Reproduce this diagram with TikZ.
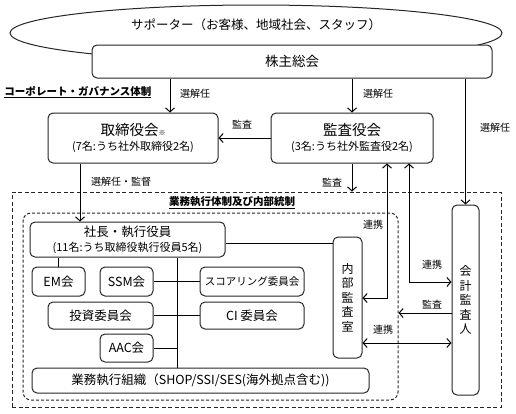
\documentclass[tikz,border=0pt]{standalone}
\usepackage{fontspec}
\setmainfont{Noto Sans CJK JP}
\usepackage{tikz}
\usetikzlibrary{arrows.meta,shapes.geometric}

\begin{document}
\begin{tikzpicture}[x=1pt,y=-1pt,>={Straight Barb[length=4pt,width=9pt]},line width=1pt]
    \definecolor{myline}{RGB}{38,38,38}
    \useasboundingbox (0,0) rectangle (516,413);

    \tikzstyle{format}=[rectangle,draw=myline,rounded corners=5pt,fill=white,inner sep=0pt,align=center,font=\fontsize{12.5}{15}\selectfont]  % 枠
    \tikzstyle{tate}=[format,font=\fontsize{12}{14.5}\selectfont]  % 縦書きの枠
    \tikzstyle{note}=[inner sep=0pt,font=\fontsize{10}{12}\selectfont]  % 矢印のラベル
    \tikzstyle{midashi}=[inner sep=0pt,font=\bfseries\fontsize{10.5}{12}\selectfont]

    % サポーターと株主総会
    \node[ellipse,draw=myline,minimum width=492pt,minimum height=56pt,inner sep=0pt](supp) at (256,33){};
    \node[inner sep=0pt,font=\fontsize{12.5}{15}\selectfont](supptext) at (256,25){サポーター（お客様、地域社会、スタッフ）};
    \node[format,minimum width=400pt,minimum height=33pt,font=\fontsize{13.5}{16}\selectfont](kabu) at (292,61.5){株主総会};
    \node[midashi,anchor=west](cg) at (4,92){\underline{コーポレート・ガバナンス体制}};

    % 取締役会・監査役会
    \node[format,minimum width=170pt,minimum height=50pt](tori) at (133,138){{\fontsize{14.5}{17}\selectfont 取締役会}{\fontsize{7}{8}\selectfont ※}\\{\fontsize{11}{13}\selectfont (7名:うち社外取締役2名)}};
    \node[format,minimum width=162pt,minimum height=50pt](kansa) at (352,138){{\fontsize{14.5}{17}\selectfont 監査役会}\\{\fontsize{11}{13}\selectfont (3名:うち社外監査役2名)}};

    % 業務執行体制
    \node[draw=myline,dash pattern=on 4pt off 2.5pt,minimum width=489pt,minimum height=215pt,inner sep=0pt](taisei) at (256.5,299.5){};
    \node[midashi](taiseititle) at (232,203){\underline{業務執行体制及び内部統制}};
    \node[draw=myline,dash pattern=on 3pt off 2pt,rounded corners=8pt,minimum width=375pt,minimum height=187pt,inner sep=0pt](naibuwaku) at (210.5,306.5){};

    \node[format,minimum width=195pt,minimum height=35pt](shacho) at (127.5,239.5){社長・執行役員\\{\fontsize{11}{13}\selectfont (11名:うち取締役執行役員5名)}};
    \node[tate,minimum width=29pt,minimum height=121pt](naibu) at (347.5,297.5){内\\部\\監\\査\\室};
    \node[tate,minimum width=27pt,minimum height=190pt](kaikei) at (465.5,300){会\\計\\監\\査\\人};
    \node[format,minimum width=53pt,minimum height=29pt](em) at (58.5,281.5){EM会};
    \node[format,minimum width=53pt,minimum height=29pt](ssm) at (126.5,281.5){SSM会};
    \node[format,minimum width=104pt,minimum height=29pt,font=\fontsize{10.5}{12}\selectfont](scoring) at (252,281.5){スコアリング委員会};
    \node[format,minimum width=105pt,minimum height=27pt](toshi) at (100.5,315.5){投資委員会};
    \node[format,minimum width=104pt,minimum height=27pt](ci) at (252,315.5){CI 委員会};
    \node[format,minimum width=53pt,minimum height=28pt](aac) at (126.5,348){AAC会};
    \node[format,minimum width=337pt,minimum height=25pt](soshiki) at (200.5,380.5){業務執行組織（SHOP/SSI/SES(海外拠点含む))};

    % 線
    \draw[->](kabu.south -| 170,0)--(tori.north -| 170,0);
    \draw[->](kabu.south -| kansa.north)--(kansa.north);
    \draw[->](kabu.south -| kaikei.north)--(kaikei.north);
    \draw[->](kansa.west)--(tori.east);
    \draw[->](tori.south -| 80,0)--(shacho.north -| 80,0);
    \draw[->](kansa.south)--(kansa.south |- taisei.north);
    \draw[<->](kansa.south -| 387,0) |- (naibu.east |- 0,298);
    \draw[<->](kansa.south -| 409,0) |- (kaikei.west |- 0,282);
    \draw[->](kaikei.west |- 0,313)--(naibuwaku.east |- 0,313);
    \draw[<->](naibu.east |- 0,343)--(kaikei.west |- 0,343);
    \draw(shacho.east |- 0,243)--(naibu.west |- 0,243);
    \draw(shacho.south -| em.north)--(em.north);
    \draw(shacho.south -| 177,0)--(soshiki.north -| 177,0);
    \draw(ssm.east)--(scoring.west);
    \draw(toshi.east)--(ci.west);
    \draw(aac.east)--(aac.east -| 177,0);

    % ラベル
    \node[note](sen1) at (195,94){選解任};
    \node[note](sen2) at (378,94){選解任};
    \node[note](sen3) at (495,128){選解任};
    \node[note](kan1) at (242,125){監査};
    \node[note](kantoku) at (121,182){選解任・監督};
    \node[note](kan2) at (332,183){監査};
    \node[note](ren1) at (373,225){連携};
    \node[note](ren2) at (432,265){連携};
    \node[note](kan3) at (432,305){監査};
    \node[note](ren3) at (383,330){連携};
\end{tikzpicture}
\end{document}
